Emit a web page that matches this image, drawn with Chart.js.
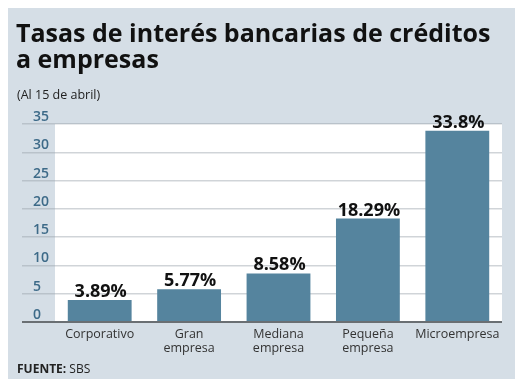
<!DOCTYPE html>
<html>
<head>
<meta charset="utf-8">
<script src="https://cdn.jsdelivr.net/npm/chart.js@4.4.1/dist/chart.umd.min.js"></script>
<style>
  html, body { margin: 0; padding: 0; background: #fff; }
  #wrap { width: 528px; height: 387px; }
</style>
</head>
<body>
<div id="wrap"><canvas id="chartTasas" width="528" height="387"></canvas></div>
<script>
// datos
const categorias = [['Corporativo'], ['Gran', 'empresa'], ['Mediana', 'empresa'], ['Pequeña', 'empresa'], ['Microempresa']];
const tasas = [3.89, 5.77, 8.58, 18.29, 33.8];
const etiquetas = ['3.89%', '5.77%', '8.58%', '18.29%', '33.8%'];
const tituloLineas = ['Tasas de interés bancarias de créditos', 'a empresas'];
const subtitulo = '(Al 15 de abril)';
const fuente = ['FUENTE:', ' SBS'];

const fondo = {
    id: 'fondo',
    beforeDraw(chart) {
        const ctx = chart.ctx;
        const a = chart.chartArea;
        ctx.save();
        ctx.fillStyle = '#d5dee6';
        ctx.fillRect(8, 8, 507, 371);
        ctx.fillStyle = '#ffffff';
        ctx.fillRect(a.left, a.top, a.right - a.left, a.bottom - a.top);
        ctx.restore();
    },
    afterDraw(chart) {
        const ctx = chart.ctx;
        ctx.save();
        ctx.fillStyle = '#111';
        ctx.textBaseline = 'alphabetic';
        ctx.textAlign = 'left';
        // titulo
        ctx.font = 'bold 25px "Open Sans"';
        ctx.fillText(tituloLineas[0], 16, 42);
        ctx.fillText(tituloLineas[1], 16, 68);
        ctx.font = '12.5px "Open Sans"';
        ctx.fillStyle = '#222';
        ctx.fillText(subtitulo, 17, 99);
        // fuente
        ctx.font = 'bold 12px "Open Sans"';
        ctx.fillText(fuente[0], 17, 373);
        const w = ctx.measureText(fuente[0]).width;
        ctx.font = '12px "Open Sans"';
        ctx.fillText(fuente[1], 17 + w, 373);
        // valores sobre las barras
        const meta = chart.getDatasetMeta(0);
        ctx.font = 'bold 18px "Open Sans"';
        ctx.textAlign = 'center';
        ctx.fillStyle = '#111';
        meta.data.forEach(function(bar, i){
            ctx.fillText(etiquetas[i], bar.x + 1, bar.y - 3);
        });
        ctx.restore();
    }
};

new Chart(document.getElementById('chartTasas'), {
    type: 'bar',
    data: {
        labels: categorias,
        datasets: [{
            label: 'Tasa de interés',
            data: tasas,
            backgroundColor: '#55849e',
            borderWidth: 0,
            categoryPercentage: 1,
            barPercentage: 0.714
        }]
    },
    options: {
        responsive: false,
        animation: false,
        layout: {
            padding: { top: 124, left: 33, right: 26, bottom: 0 }
        },
        plugins: {
            legend: { display: false },
            tooltip: { enabled: false }
        },
        scales: {
            x: {
                grid: { display: false, drawTicks: false },
                border: { display: false },
                ticks: {
                    color: '#333',
                    padding: 6,
                    autoSkip: false,
                    maxRotation: 0,
                    minRotation: 0,
                    font: { family: 'Open Sans', size: 12.5, lineHeight: 1.1 }
                },
                afterFit(scale) { scale.height = 65; }
            },
            y: {
                min: 0,
                max: 35,
                border: { display: false },
                grid: {
                    color: function(c){ return c.tick && c.tick.value === 0 ? '#6a6f73' : 'rgba(150,160,168,0.45)'; },
                    lineWidth: function(c){ return c.tick && c.tick.value === 0 ? 2 : 1.5; },
                    tickLength: 33
                },
                ticks: {
                    stepSize: 5,
                    crossAlign: 'far',
                    labelOffset: -7,
                    color: '#3d6a88',
                    font: { family: 'Open Sans', size: 14, weight: '600' }
                },
                afterFit(scale) { scale.width = 22; }
            }
        }
    },
    plugins: [fondo]
});
</script>
</body>
</html>
